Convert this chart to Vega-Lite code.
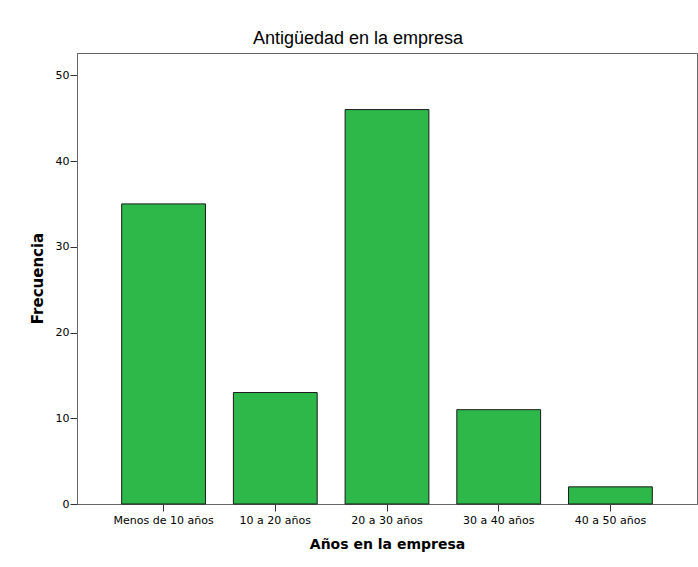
{
  "$schema": "https://vega.github.io/schema/vega-lite/v6.json",
  "autosize": "none",
  "width": 620,
  "height": 451,
  "padding": {"left": 77, "top": 53, "right": 1, "bottom": 63},
  "background": "white",
  "title": {
    "text": "Antigüedad en la empresa",
    "font": "Liberation Sans",
    "fontSize": 18,
    "fontWeight": "normal",
    "color": "#000000",
    "anchor": "middle",
    "dx": -29,
    "offset": 5
  },
  "data": {
    "values": [
      {"grupo": "Menos de 10 años", "frecuencia": 35},
      {"grupo": "10 a 20 años", "frecuencia": 13},
      {"grupo": "20 a 30 años", "frecuencia": 46},
      {"grupo": "30 a 40 años", "frecuencia": 11},
      {"grupo": "40 a 50 años", "frecuencia": 2}
    ]
  },
  "mark": {"type": "bar", "fill": "#2EB84A", "stroke": "#1a1a1a", "strokeWidth": 1},
  "encoding": {
    "x": {
      "field": "grupo",
      "type": "nominal",
      "sort": null,
      "scale": {"paddingInner": 0.25, "paddingOuter": 0.4},
      "axis": {
        "title": "Años en la empresa",
        "labelAngle": 0,
        "labelFont": "DejaVu Sans",
        "labelFontSize": 11,
        "labelColor": "#000000",
        "labelPadding": 3,
        "tickSize": 7,
        "tickColor": "#333333",
        "domainColor": "#666666",
        "titleFont": "DejaVu Sans",
        "titleFontSize": 14,
        "titleFontWeight": "bold",
        "titleColor": "#000000",
        "titlePadding": 12
      }
    },
    "y": {
      "field": "frecuencia",
      "type": "quantitative",
      "scale": {"domain": [0, 52.6], "nice": false},
      "axis": {
        "title": "Frecuencia",
        "values": [0, 10, 20, 30, 40, 50],
        "grid": false,
        "labelFont": "DejaVu Sans",
        "labelFontSize": 11,
        "labelColor": "#000000",
        "labelPadding": 1,
        "tickSize": 7,
        "tickColor": "#333333",
        "domainColor": "#666666",
        "titleFont": "DejaVu Sans",
        "titleFontSize": 15,
        "titleFontWeight": "bold",
        "titleColor": "#000000",
        "titleAngle": -90,
        "titleX": -40,
        "titleY": 225,
        "titleBaseline": "middle",
        "titleAlign": "center"
      }
    }
  },
  "config": {
    "view": {"stroke": "#666666", "strokeWidth": 1}
  }
}
